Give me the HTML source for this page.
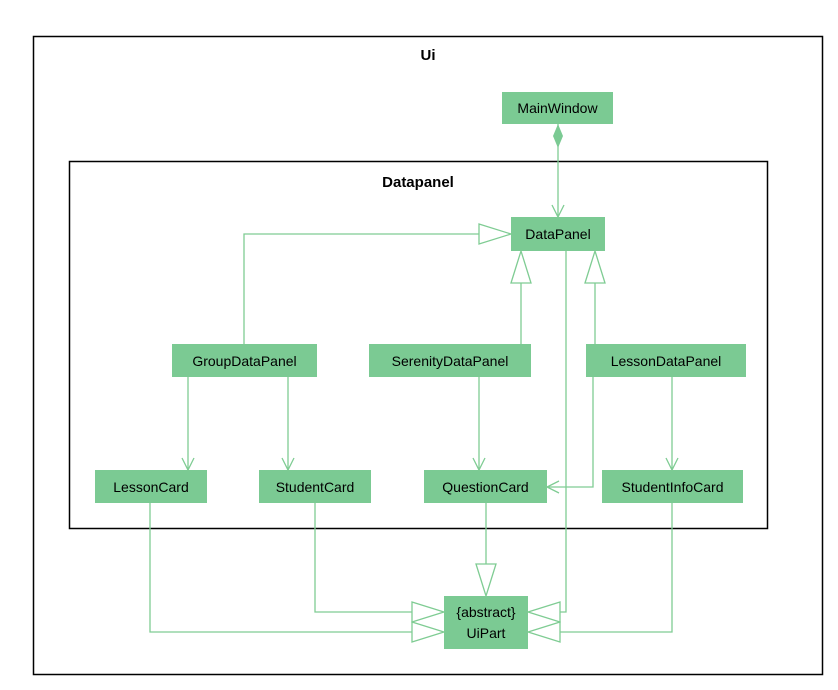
<!DOCTYPE html>
<html><head><style>body{margin:0;background:#fff}svg{display:block}text{font-family:"Liberation Sans",Arial,sans-serif}</style></head><body>
<svg width="838" height="690" viewBox="0 0 838 690">
<rect x="33.5" y="36.5" width="789" height="638" fill="none" stroke="#000" stroke-width="1.5"/>
<text x="428" y="60" font-size="15" font-weight="bold" text-anchor="middle">Ui</text>
<rect x="69.5" y="161.5" width="698" height="367" fill="none" stroke="#000" stroke-width="1.5"/>
<text x="418" y="187" font-size="15" font-weight="bold" text-anchor="middle">Datapanel</text>
<g fill="#7BCA93">
<rect x="502" y="92" width="111" height="32"/>
<rect x="511" y="217" width="94" height="34"/>
<rect x="172" y="344" width="145" height="33"/>
<rect x="369" y="344" width="162" height="33"/>
<rect x="586" y="344" width="160" height="33"/>
<rect x="95" y="470" width="112" height="33"/>
<rect x="259" y="470" width="112" height="33"/>
<rect x="424" y="470" width="123" height="33"/>
<rect x="602" y="470" width="141" height="33"/>
<rect x="444" y="596" width="84" height="53"/>
</g>
<g font-size="14" text-anchor="middle" fill="#000">
<text x="557.5" y="113">MainWindow</text>
<text x="558" y="239">DataPanel</text>
<text x="244.5" y="366">GroupDataPanel</text>
<text x="450" y="366">SerenityDataPanel</text>
<text x="666" y="366">LessonDataPanel</text>
<text x="151" y="492">LessonCard</text>
<text x="315" y="492">StudentCard</text>
<text x="485.5" y="492">QuestionCard</text>
<text x="672.5" y="492">StudentInfoCard</text>
<text x="486" y="617">{abstract}</text>
<text x="486" y="638">UiPart</text>
</g>
<g fill="none" stroke="#7FCC93" stroke-width="1.3">
<path d="M558 124V217"/><path d="M552 205L558 217L564 205"/>
<path d="M244 344V234H479"/><path d="M479 224L511 234L479 244Z" fill="#fff"/>
<path d="M521 344V283"/><path d="M511 283L521 251L531 283Z" fill="#fff"/>
<path d="M595 344V283"/><path d="M585 283L595 251L605 283Z" fill="#fff"/>
<path d="M566 251V612H560"/><path d="M560 602L528 612L560 622Z" fill="#fff"/>
<path d="M672 503V632H560"/><path d="M560 622L528 632L560 642Z" fill="#fff"/>
<path d="M593 377V487H547"/><path d="M559 481L547 487L559 493"/>
<path d="M188 377V470"/><path d="M182 458L188 470L194 458"/>
<path d="M288 377V470"/><path d="M282 458L288 470L294 458"/>
<path d="M479 377V470"/><path d="M473 458L479 470L485 458"/>
<path d="M672 377V470"/><path d="M666 458L672 470L678 458"/>
<path d="M486 503V564"/><path d="M476 564L486 596L496 564Z" fill="#fff"/>
<path d="M150 503V632H412"/><path d="M412 622L444 632L412 642Z" fill="#fff"/>
<path d="M315 503V612H412"/><path d="M412 602L444 612L412 622Z" fill="#fff"/>
</g>
<path d="M558 124L563 136L558 148L553 136Z" fill="#7BCA93"/>
</svg>
</body></html>
